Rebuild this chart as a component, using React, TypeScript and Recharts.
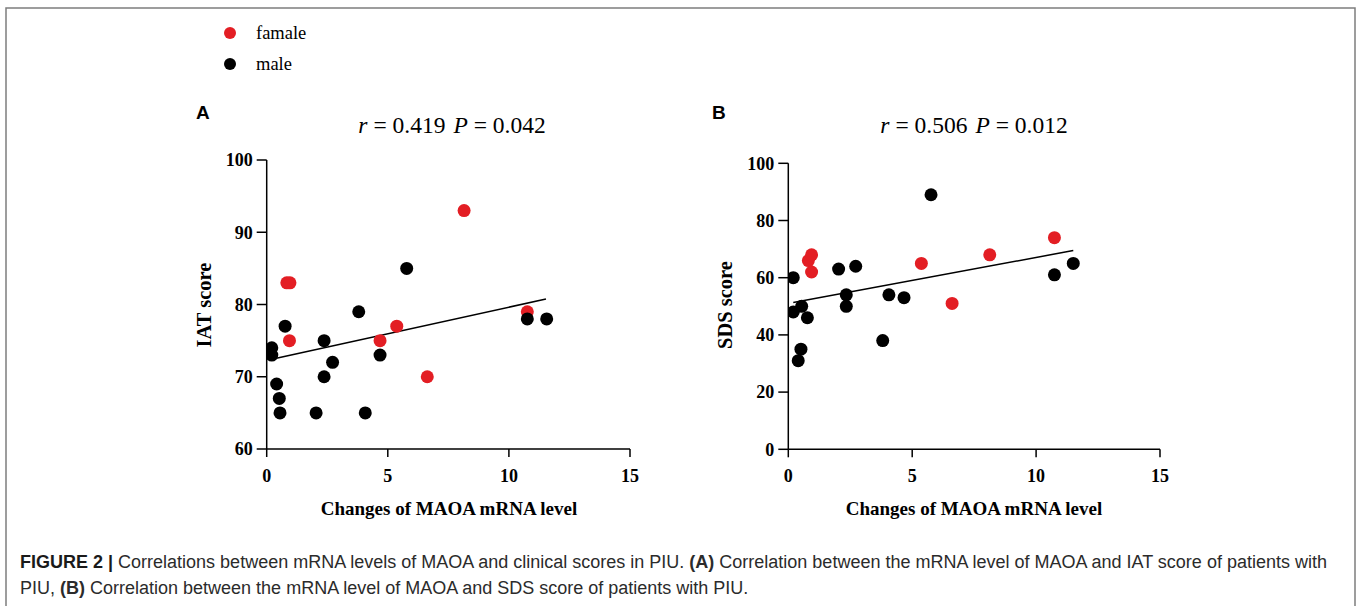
import React from "react";
import { ScatterChart, Scatter, XAxis, YAxis, ReferenceLine } from "recharts";

// Panel A: IAT score vs MAOA mRNA change
const iatFemaleX = [0.83, 0.96, 0.94, 4.68, 5.37, 6.63, 8.15, 10.76];
const iatFemaleY = [83, 83, 75, 75, 77, 70, 93, 79];
const iatMaleX = [0.21, 0.21, 0.76, 0.41, 0.52, 0.55, 2.04, 2.37, 2.37, 2.72, 3.8, 4.07, 4.68, 5.78, 10.76, 11.56];
const iatMaleY = [74, 73, 77, 69, 67, 65, 65, 75, 70, 72, 79, 65, 73, 85, 78, 78];
const iatFitX = [0.21, 11.53];
const iatFitY = [72.41, 80.76];

// Panel B: SDS score vs MAOA mRNA change
const sdsFemaleX = [0.81, 0.94, 0.94, 5.37, 6.61, 8.13, 10.74];
const sdsFemaleY = [66, 68, 62, 65, 51, 68, 74];
const sdsMaleX = [0.2, 0.2, 0.54, 0.77, 0.51, 0.4, 2.03, 2.34, 2.34, 2.72, 3.81, 4.06, 4.67, 5.76, 10.74, 11.5];
const sdsMaleY = [60, 48, 50, 46, 35, 31, 63, 54, 50, 64, 38, 54, 53, 89, 61, 65];
const sdsFitX = [0.2, 11.5];
const sdsFitY = [51.3, 69.5];

const xTicks = [0, 5, 10, 15];
const iatTicks = [60, 70, 80, 90, 100];
const sdsTicks = [0, 20, 40, 60, 80, 100];

const RED = "#e31e24";
const zip = (xs: number[], ys: number[]) => xs.map((x, i) => ({ x, y: ys[i] }));

const tickStyle = { fill: "#000", fontFamily: "Liberation Serif", fontWeight: 700, fontSize: 18 };
const serif = "Liberation Serif";
const sans = "Liberation Sans";

const dot = (color: string) => (props: any) => <circle cx={props.cx} cy={props.cy} r={6.5} fill={color} />;

type PanelProps = {
  left: number;
  top: number;
  margin: { top: number; right: number; bottom: number; left: number };
  female: { x: number; y: number }[];
  male: { x: number; y: number }[];
  fitX: number[];
  fitY: number[];
  yDomain: [number, number];
  yTicks: number[];
};

function Panel({ left, top, margin, female, male, fitX, fitY, yDomain, yTicks }: PanelProps) {
  return (
    <div style={{ position: "absolute", left, top, width: 520, height: 400 }}>
      <ScatterChart width={520} height={400} margin={margin}>
        <XAxis
          type="number"
          dataKey="x"
          domain={[0, 15]}
          ticks={xTicks}
          height={60}
          tickSize={8}
          tickMargin={12}
          tick={tickStyle}
          axisLine={{ stroke: "#000", strokeWidth: 1.5 }}
          tickLine={{ stroke: "#000", strokeWidth: 1.5 }}
          allowDataOverflow
        />
        <YAxis
          type="number"
          dataKey="y"
          domain={yDomain}
          ticks={yTicks}
          width={60}
          tickSize={10}
          tickMargin={4}
          tick={tickStyle}
          axisLine={{ stroke: "#000", strokeWidth: 1.5 }}
          tickLine={{ stroke: "#000", strokeWidth: 1.5 }}
          allowDataOverflow
        />
        <ReferenceLine
          segment={[
            { x: fitX[0], y: fitY[0] },
            { x: fitX[1], y: fitY[1] },
          ]}
          stroke="#000"
          strokeWidth={1.5}
          ifOverflow="visible"
        />
        <Scatter data={female} fill={RED} shape={dot(RED)} isAnimationActive={false} />
        <Scatter data={male} fill="#000" shape={dot("#000")} isAnimationActive={false} />
      </ScatterChart>
    </div>
  );
}

export default function App() {
  return (
    <div style={{ position: "absolute", left: 0, top: 0, width: 1357, height: 606, background: "#fff", overflow: "hidden" }}>
      <Panel
        left={150}
        top={140}
        margin={{ top: 20, right: 40, bottom: 31, left: 56.7 }}
        female={zip(iatFemaleX, iatFemaleY)}
        male={zip(iatMaleX, iatMaleY)}
        fitX={iatFitX}
        fitY={iatFitY}
        yDomain={[60, 100]}
        yTicks={iatTicks}
      />
      <Panel
        left={680}
        top={140}
        margin={{ top: 23.3, right: 40, bottom: 30.7, left: 48.3 }}
        female={zip(sdsFemaleX, sdsFemaleY)}
        male={zip(sdsMaleX, sdsMaleY)}
        fitX={sdsFitX}
        fitY={sdsFitY}
        yDomain={[0, 100]}
        yTicks={sdsTicks}
      />
      <svg width={1357} height={606} style={{ position: "absolute", left: 0, top: 0, pointerEvents: "none" }}>
        {/* frame */}
        <path d="M6,606 L6,8 L1355,8 L1355,606" fill="none" stroke="#7d7d7d" strokeWidth={1.5} />
        {/* legend */}
        <circle cx={230} cy={33} r={6} fill={RED} />
        <text x={256} y={39} fontFamily={serif} fontSize={18.5} fill="#000">famale</text>
        <circle cx={230} cy={64} r={6} fill="#000" />
        <text x={256} y={70} fontFamily={serif} fontSize={18.5} fill="#000">male</text>
        {/* panel letters */}
        <text x={196} y={119} fontFamily={sans} fontWeight={700} fontSize={19} fill="#000">A</text>
        <text x={712} y={119} fontFamily={sans} fontWeight={700} fontSize={19} fill="#000">B</text>
        {/* stats */}
        <text x={452} y={133} textAnchor="middle" fontFamily={serif} fontSize={23.5} fill="#000">
          <tspan fontStyle="italic">r</tspan> = 0.419
          <tspan dx={8} fontStyle="italic">P</tspan> = 0.042
        </text>
        <text x={974} y={133} textAnchor="middle" fontFamily={serif} fontSize={23.5} fill="#000">
          <tspan fontStyle="italic">r</tspan> = 0.506
          <tspan dx={8} fontStyle="italic">P</tspan> = 0.012
        </text>
        {/* axis titles */}
        <text x={449} y={515} textAnchor="middle" fontFamily={serif} fontWeight={700} fontSize={19} fill="#000">Changes of MAOA mRNA level</text>
        <text x={974} y={515} textAnchor="middle" fontFamily={serif} fontWeight={700} fontSize={19} fill="#000">Changes of MAOA mRNA level</text>
        <text transform="translate(211,305) rotate(-90)" textAnchor="middle" fontFamily={serif} fontWeight={700} fontSize={20.5} fill="#000">IAT score</text>
        <text transform="translate(732,305) rotate(-90)" textAnchor="middle" fontFamily={serif} fontWeight={700} fontSize={20.5} fill="#000">SDS score</text>
        {/* caption */}
        <text x={20} y={568} fontFamily={sans} fontSize={18} fill="#2b2b2b">
          <tspan fontWeight={700} fill="#1a1a1a">FIGURE 2 |</tspan> Correlations between mRNA levels of MAOA and clinical scores in PIU. <tspan fontWeight={700}>(A)</tspan> Correlation between the mRNA level of MAOA and IAT score of patients with
        </text>
        <text x={20} y={594} fontFamily={sans} fontSize={18} fill="#2b2b2b">
          PIU, <tspan fontWeight={700}>(B)</tspan> Correlation between the mRNA level of MAOA and SDS score of patients with PIU.
        </text>
      </svg>
    </div>
  );
}
